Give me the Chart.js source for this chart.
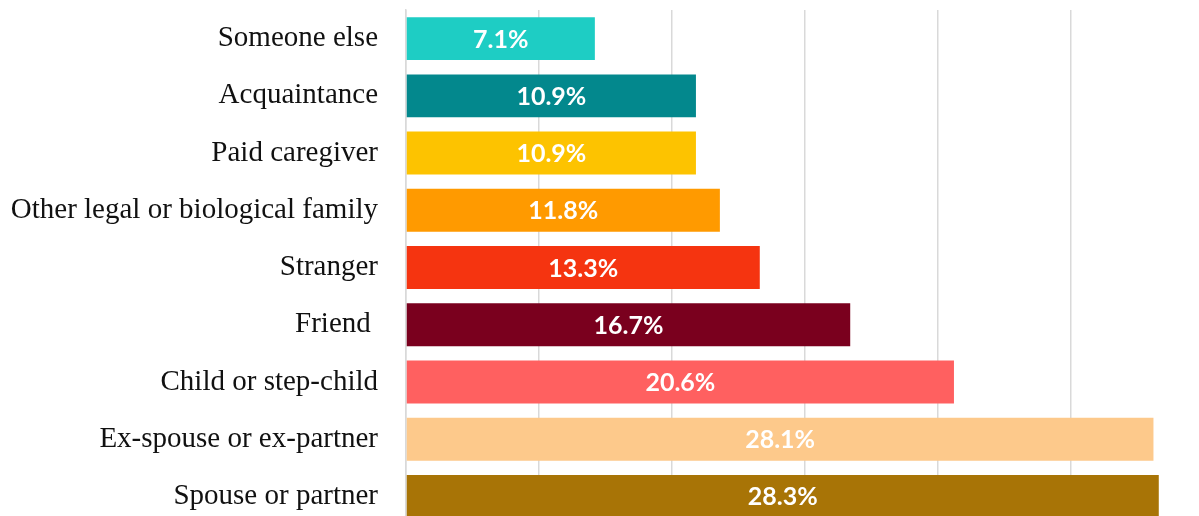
<!DOCTYPE html>
<html>
<head>
<meta charset="utf-8">
<script src="https://cdn.jsdelivr.net/npm/chart.js@4"></script>
<style>
  html, body { margin: 0; padding: 0; background: #fff; overflow: hidden; }
  #wrap { position: absolute; left: 0; top: 0; width: 1204px; height: 525px; }
</style>
</head>
<body>
<div id="wrap"><canvas id="relChart"></canvas></div>
<script>
const categories = ["Someone else", "Acquaintance", "Paid caregiver", "Other legal or biological family",
  "Stranger", "Friend ", "Child or step-child", "Ex-spouse or ex-partner", "Spouse or partner"];
const values = [7.1, 10.9, 10.9, 11.8, 13.3, 16.7, 20.6, 28.1, 28.3];
const barColors = ["#1ecdc4", "#03888d", "#fdc300", "#ff9a00", "#f53410", "#7a001e", "#ff6060", "#fdc98b", "#a87406"];

// white value labels centred in each bar
const valueLabels = {
  id: 'valueLabels',
  afterDatasetsDraw(chart) {
    const ctx = chart.ctx;
    const meta = chart.getDatasetMeta(0);
    ctx.save();
    ctx.fillStyle = '#fff';
    ctx.font = 'bold 25px Lato';
    ctx.textAlign = 'center';
    ctx.textBaseline = 'middle';
    meta.data.forEach((bar, i) => {
      const x = (bar.x + bar.base) / 2;
      ctx.fillText(values[i].toFixed(1) + '%', x, bar.y + 1);
    });
    ctx.restore();
  }
};

document.addEventListener("DOMContentLoaded", () => {
  const ctx = document.getElementById("relChart");
  new Chart(ctx, {
    type: 'bar',
    data: {
      labels: categories,
      datasets: [{
        data: values,
        backgroundColor: barColors,
        categoryPercentage: 0.75,
        barPercentage: 1.0
      }]
    },
    options: {
      indexAxis: 'y',
      responsive: true,
      maintainAspectRatio: false,
      animation: false,
      layout: { padding: { top: 10, right: 0, bottom: 0, left: 0 } },
      plugins: { legend: { display: false }, tooltip: { enabled: false } },
      scales: {
        x: {
          min: 0,
          max: 30,
          ticks: { stepSize: 5, display: false },
          grid: { color: '#d9d9d9', lineWidth: 1.5, drawTicks: false },
          border: { display: false }
        },
        y: {
          grid: { display: false, drawTicks: false },
          border: { display: true, color: '#d9d9d9', width: 1.5 },
          ticks: { color: '#111', padding: 28, font: { family: 'Liberation Serif', size: 29 } },
          afterFit(scale) {
            scale.width = 406;
            scale.paddingTop = 0;
            scale.paddingBottom = 0;
          }
        }
      }
    },
    plugins: [valueLabels]
  });
});
</script>
</body>
</html>
